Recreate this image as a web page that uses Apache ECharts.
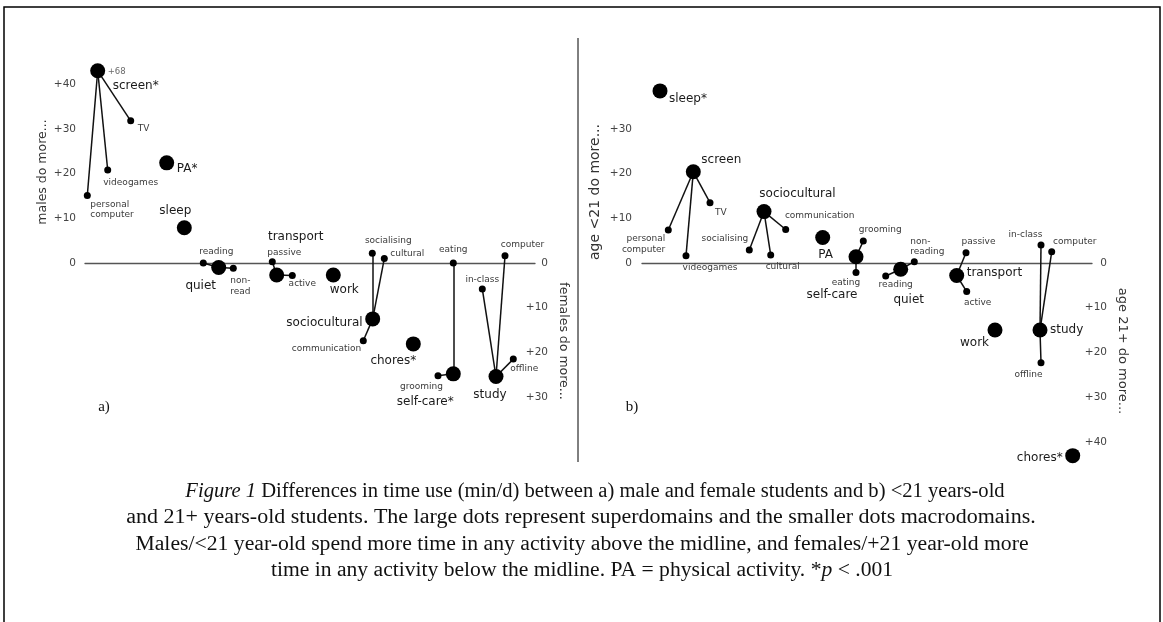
<!DOCTYPE html>
<html><head><meta charset="utf-8">
<script src="https://cdn.jsdelivr.net/npm/echarts@6/dist/echarts.min.js"></script>
<style>html,body{margin:0;padding:0;background:#fff}#c{width:1163px;height:622px}</style>
</head><body><div id="c"></div>
<script>
// ---------- Panel a) males vs females (difference, min/d) ----------
const namesA = ['screen*','TV','videogames','personal\ncomputer','PA*','sleep','quiet','reading','non-\nread','transport','passive','active','work','sociocultural','socialising','cultural','communication','chores*','self-care*','eating','grooming','study','in-class','computer','offline'];
const slotA = [12.7,45.7,22.7,2.3,81.7,99.3,133.7,118.3,148.3,191.7,187.3,207.3,248.3,287.7,287.3,299.3,278.3,328.3,368.3,368.3,353,411,397.3,420,428.3];
const valuesA = [43.0,31.8,20.8,15.1,22.4,7.9,-1.0,0,-1.2,-2.7,0.3,-2.8,-2.7,-12.5,2.2,1.0,-17.4,-18.1,-24.8,0,-25.2,-25.4,-5.8,1.6,-21.5];
const parentsA = [-1,0,0,0,-1,-1,-1,6,6,-1,9,9,-1,-1,13,13,13,-1,-1,18,18,-1,21,21,21];
const noteA = {index: 0, text: '+68'};
const upperTicksA = [0,10,20,30,40];
const lowerTicksA = [-10,-20,-30];

// ---------- Panel b) <21 vs 21+ ----------
const namesB = ['sleep*','screen','TV','personal\ncomputer','videogames','sociocultural','socialising','cultural','communication','PA','self-care','grooming','eating','quiet','reading','non-\nreading','transport','passive','active','work','study','in-class','computer','offline','chores*'];
const slotB = [18,51.3,68,26.3,44,122,107.3,128.7,143.7,180.7,214,221.3,214,258.7,243.7,272.3,314.7,324,324.7,353,398,399,409.7,399,430.7];
const valuesB = [38.5,20.4,13.5,7.4,1.6,11.5,2.9,1.8,7.5,5.7,1.4,4.9,-2.1,-1.4,-2.9,0.3,-2.8,2.3,-6.4,-15.0,-15.0,4.0,2.5,-22.3,-43.1];
const parentsB = [-1,-1,1,1,1,-1,5,5,5,-1,-1,10,10,-1,13,13,-1,16,16,-1,-1,20,20,20,-1];
const upperTicksB = [0,10,20,30];
const lowerTicksB = [-10,-20,-30,-40];

// ---------- label placement (style only) ----------
const layoutA = [[38,15,'center'],[7,8,'left'],[23,13,'center'],[3,14,'left'],[10,6,'left'],[-9,-17,'center'],[-18,18,'center'],[13,-11,'center'],[-3,18,'left'],[19,-38,'center'],[12,-9.5,'center'],[10,8,'center'],[11,15,'center'],[-10,4,'right'],[16,-13,'center'],[23,-5,'center'],[-2,8,'right'],[-20,17,'center'],[-28,28,'center'],[0,-13,'center'],[-16.5,11,'center'],[-6,18,'center'],[0,-9,'center'],[17.5,-11.5,'center'],[11,10,'center']];
const layoutB = [[9,7.5,'left'],[28,-12,'center'],[5,10,'left'],[-3,14,'right'],[24,12,'center'],[33.5,-18,'center'],[-1,-11,'right'],[12,12,'center'],[34,-14,'center'],[3,17,'center'],[-24,38,'center'],[17,-11,'center'],[-10,10,'center'],[8,31,'center'],[10,9,'center'],[-4,-15,'left'],[10,-3,'left'],[12.5,-11,'center'],[11,10.6,'center'],[-20.5,13,'center'],[10,0,'left'],[-15.5,-10,'center'],[23,-10,'center'],[-12.5,11.6,'center'],[-10,2,'right']];

const FONT = '"DejaVu Sans", sans-serif';

function scatterData(names, xs, vals, parents, layout) {
  return names.map((n, i) => {
    const sup = parents[i] < 0;
    const L = layout[i];
    return {
      name: n, value: [xs[i], vals[i]],
      symbolSize: sup ? 15 : 7,
      label: {
        show: true, position: 'inside', formatter: n, offset: [L[0], L[1]],
        align: L[2], verticalAlign: 'middle',
        fontFamily: FONT, fontSize: sup ? 12 : 9, lineHeight: sup ? 14 : 10.5,
        color: sup ? '#1a1a1a' : '#3a3a3a'
      }
    };
  });
}
function linkData(xs, vals, parents) {
  const out = [];
  parents.forEach((p, i) => { if (p >= 0) out.push({coords: [[xs[p], vals[p]], [xs[i], vals[i]]]}); });
  return out;
}
function tickFmt(list) {
  return v => (v === 0 && list.includes(0)) ? '0' : (list.includes(v) ? '+' + Math.abs(v) : '');
}

const PX = 4.47; // px per minute (shared scale)
const gridA = {left: 85, top: 263 - 50 * PX, width: 450, height: 80 * PX};
const gridB = {left: 642, top: 263 - 40 * PX, width: 450, height: 90 * PX};

const xAx = (gi, yi) => ({
  type: 'value', gridIndex: gi, min: 0, max: 450,
  axisLine: {show: true, onZero: true, onZeroAxisIndex: yi, lineStyle: {color: '#555', width: 1.3}},
  axisTick: {show: false}, axisLabel: {show: false}, splitLine: {show: false}
});
const yAx = (gi, pos, min, max, list, margin, align) => ({
  type: 'value', gridIndex: gi, position: pos, min: min, max: max, interval: 10,
  axisLine: {show: false}, axisTick: {show: false}, splitLine: {show: false},
  axisLabel: {formatter: tickFmt(list), margin: margin, align: align, fontFamily: FONT, fontSize: 10.5, color: '#444'}
});

const sym = {color: '#000', opacity: 1};
const linkStyle = {color: '#111', width: 1.5, opacity: 1};

const capFont = '"Liberation Serif", "Times New Roman", serif';
const capLines = [
  {x: 595, y: 492, s: 1.03, t: '{i|Figure 1} Differences in time use (min/d) between a) male and female students and b) <21 years-old'},
  {x: 581, y: 518, s: 1.10, t: 'and 21+ years-old students. The large dots represent superdomains and the smaller dots macrodomains.'},
  {x: 582, y: 545, s: 1.085, t: 'Males/<21 year-old spend more time in any activity above the midline, and females/+21 year-old more'},
  {x: 582, y: 571, s: 1.08, t: 'time in any activity below the midline. PA = physical activity. *{i|p} < .001'}
];
function txt(x, y, text, font, rot, color) {
  return {type: 'text', x: x, y: y, rotation: rot || 0, silent: true,
    style: {text: text, font: font, fill: color || '#222', align: 'center', verticalAlign: 'middle', textAlign: 'center', textVerticalAlign: 'middle'}};
}

const graphics = [
  {type: 'polyline', shape: {points: [[4, 640], [4, 7], [1160, 7], [1160, 640]]}, style: {stroke: '#000', lineWidth: 1.5, fill: null}, silent: true},
  {type: 'line', shape: {x1: 578, y1: 38, x2: 578, y2: 462}, style: {stroke: '#000', lineWidth: 1}, silent: true},
  txt(104, 407, 'a)', '15px "Liberation Serif", serif', 0, '#111'),
  txt(632, 407, 'b)', '15px "Liberation Serif", serif', 0, '#111'),
  txt(43, 172, 'males do more...', '12.5px ' + FONT, Math.PI / 2, '#333'),
  txt(563, 341, 'females do more...', '12.5px ' + FONT, -Math.PI / 2, '#333'),
  txt(595, 192, 'age <21 do more...', '14px ' + FONT, Math.PI / 2, '#333'),
  txt(1122, 351, 'age 21+ do more...', '13px ' + FONT, -Math.PI / 2, '#333')
];
capLines.forEach(c => graphics.push({
  type: 'text', x: c.x, y: c.y, scaleX: c.s, silent: true,
  style: {text: c.t, font: '20px ' + capFont, fill: '#111', align: 'center', verticalAlign: 'middle', textAlign: 'center', textVerticalAlign: 'middle',
    rich: {i: {fontStyle: 'italic', fontFamily: capFont, fontSize: 20, fill: '#111'}}}
}));

const chart = echarts.init(document.getElementById('c'), null, {renderer: 'canvas'});
chart.setOption({
  backgroundColor: '#fff',
  animation: false,
  grid: [gridA, gridB],
  xAxis: [xAx(0, 0), xAx(1, 2)],
  yAxis: [
    yAx(0, 'left', -30, 50, upperTicksA, 9, 'right'),
    yAx(0, 'right', -30, 50, lowerTicksA.concat([0]), 13, 'right'),
    yAx(1, 'left', -50, 40, upperTicksB, 10, 'right'),
    yAx(1, 'right', -50, 40, lowerTicksB.concat([0]), 15, 'right')
  ],
  series: [
    {type: 'lines', coordinateSystem: 'cartesian2d', xAxisIndex: 0, yAxisIndex: 0, z: 2, lineStyle: linkStyle, data: linkData(slotA, valuesA, parentsA)},
    {type: 'scatter', xAxisIndex: 0, yAxisIndex: 0, z: 3, itemStyle: sym, data: scatterData(namesA, slotA, valuesA, parentsA, layoutA)},
    {type: 'scatter', xAxisIndex: 0, yAxisIndex: 0, z: 4, symbolSize: 2, itemStyle: {color: 'rgba(0,0,0,0)'},
      data: [{value: [slotA[noteA.index], valuesA[noteA.index]], label: {show: true, position: 'inside', formatter: noteA.text, offset: [10, 1], align: 'left', verticalAlign: 'middle', fontFamily: FONT, fontSize: 8.5, color: '#444'}}]},
    {type: 'lines', coordinateSystem: 'cartesian2d', xAxisIndex: 1, yAxisIndex: 2, z: 2, lineStyle: linkStyle, data: linkData(slotB, valuesB, parentsB)},
    {type: 'scatter', xAxisIndex: 1, yAxisIndex: 2, z: 3, itemStyle: sym, data: scatterData(namesB, slotB, valuesB, parentsB, layoutB)}
  ],
  graphic: graphics
});
</script></body></html>
